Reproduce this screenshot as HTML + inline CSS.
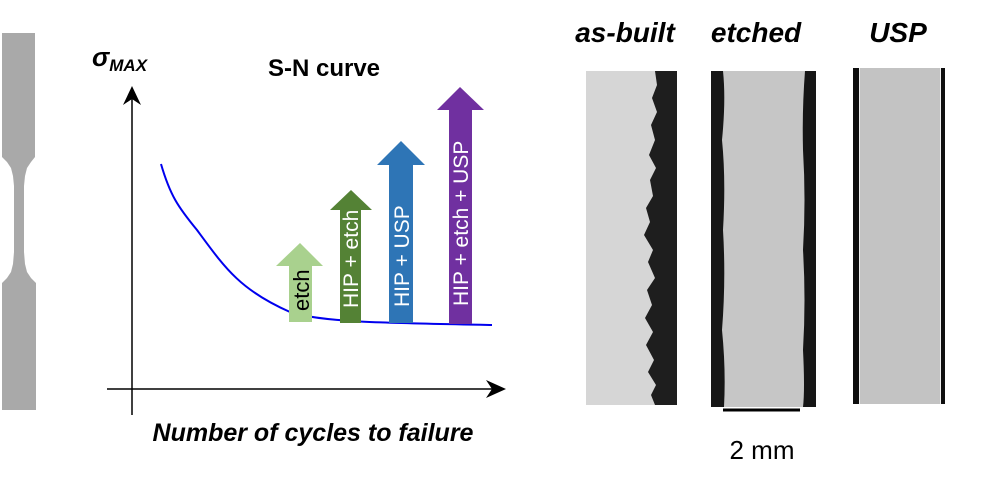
<!DOCTYPE html>
<html><head><meta charset="utf-8"><style>
html,body{margin:0;padding:0;background:#fff;}
svg{display:block;}
text{font-family:"Liberation Sans",sans-serif;}
</style></head><body>
<svg width="1001" height="485" viewBox="0 0 1001 485" xmlns="http://www.w3.org/2000/svg">
<!-- specimen -->
<polygon fill="#a9a9a9" points="2,33 35,33 35,157 31,162 27,168 25,176 24,186 24,252 25,264 27,272 31,278 36,283 36,410 2,410 2,283 7,278 11,272 13,264 14,252 14,186 13,176 11,168 7,162 2,157"/>
<!-- axes -->
<line x1="132" y1="95" x2="132" y2="415" stroke="#000" stroke-width="1.5"/>
<polygon points="132,86 123,105 132,99 141,105" fill="#000"/>
<line x1="107" y1="389" x2="495" y2="389" stroke="#000" stroke-width="1.5"/>
<polygon points="506,389 486,380 492,389 486,398" fill="#000"/>
<text x="92" y="66" font-size="26" font-weight="bold" font-style="italic">σ<tspan font-size="17" dy="5">MAX</tspan></text>
<text x="324" y="76" font-size="24" font-weight="bold" text-anchor="middle">S-N curve</text>
<text x="313" y="441" font-size="25" font-weight="bold" font-style="italic" text-anchor="middle">Number of cycles to failure</text>
<!-- curve -->
<path d="M161,164 C170,195 178,207 197,230 C225,268 240,290 290,312 C320,322 380,323 492,325" fill="none" stroke="#0000ee" stroke-width="2"/>
<!-- arrows -->
<polygon points="289,322 312,322 312,266 323,266 300,243 276,266 289,266" fill="#a9d18e"/>
<text transform="translate(309,311) rotate(-90)" font-size="22" fill="#000">etch</text>
<polygon points="340,323 361,323 361,210 372,210 351,190 330,210 340,210" fill="#548235"/>
<text transform="translate(358,308) rotate(-90)" font-size="21" fill="#fff">HIP + etch</text>
<polygon points="389,323 413,323 413,165 425,165 401,141 377,165 389,165" fill="#2e75b6"/>
<text transform="translate(409,307) rotate(-90)" font-size="21" fill="#fff">HIP + USP</text>
<polygon points="449,324 472,324 472,110 484,110 460,87 437,110 449,110" fill="#7030a0"/>
<text transform="translate(468,306) rotate(-90)" font-size="21" fill="#fff">HIP + etch + USP</text>
<!-- titles -->
<text x="625" y="42" font-size="28" font-weight="bold" font-style="italic" text-anchor="middle">as-built</text>
<text x="756" y="42" font-size="28" font-weight="bold" font-style="italic" text-anchor="middle">etched</text>
<text x="898" y="42" font-size="28" font-weight="bold" font-style="italic" text-anchor="middle">USP</text>
<!-- CT 1 -->
<rect x="586" y="71" width="91" height="334" fill="#d6d6d6"/>
<path d="M677,71 V405 H655 L651,395 656,385 648,372 654,360 646,345 653,332 645,318 652,305 647,290 655,278 648,262 653,250 644,235 650,222 646,208 653,196 650,180 656,168 649,155 655,140 651,125 657,112 652,98 657,85 655,71 Z" fill="#1e1e1e"/>
<!-- CT 2 -->
<rect x="711" y="71" width="105" height="336" fill="#161616"/>
<path d="M723,71 H805 Q802,110 803,150 Q806,200 803,250 Q806,300 803,350 Q805,390 803,407 H724 Q726,370 722,330 Q726,280 723,230 Q726,180 722,140 Q726,100 723,71 Z" fill="#c6c6c6"/>
<!-- CT 3 -->
<rect x="853" y="68" width="92" height="336" fill="#0e0e0e"/>
<rect x="859" y="68" width="82" height="336" fill="#c3c3c3"/>
<line x1="859.5" y1="68" x2="859.5" y2="404" stroke="#eee" stroke-width="1"/>
<line x1="940.5" y1="68" x2="940.5" y2="404" stroke="#eee" stroke-width="1"/>
<!-- scale bar -->
<line x1="723" y1="410" x2="800" y2="410" stroke="#000" stroke-width="3"/>
<text x="762" y="459" font-size="26" text-anchor="middle">2 mm</text>
</svg>
</body></html>
